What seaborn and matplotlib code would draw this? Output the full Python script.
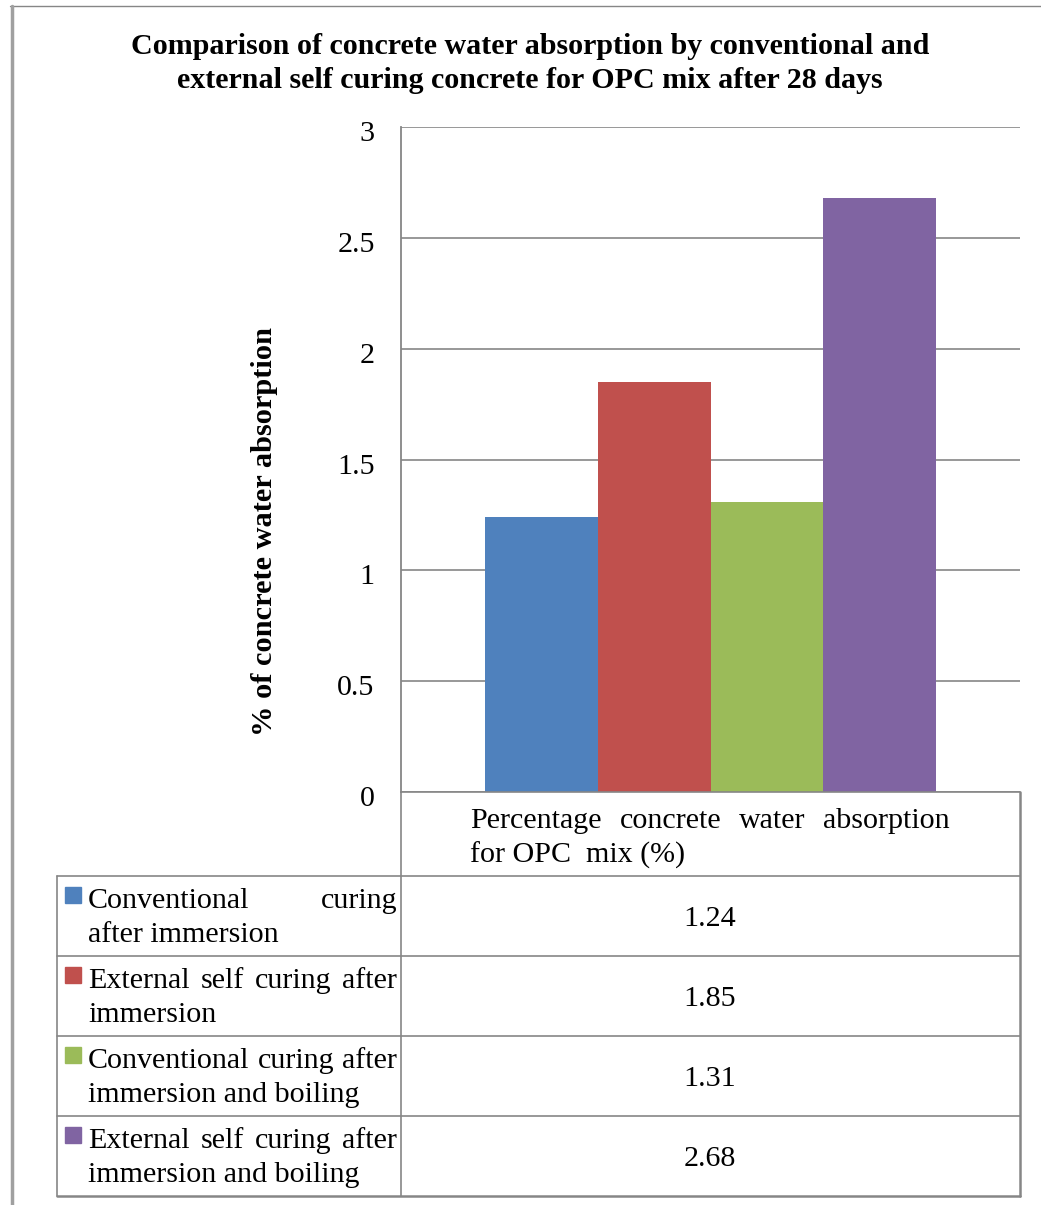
import matplotlib
matplotlib.use("Agg")
import matplotlib.pyplot as plt
import matplotlib.transforms as mtransforms
import seaborn as sns
import pandas as pd
from matplotlib.lines import Line2D

# ---- data ----
category = "Percentage concrete water absorption for OPC mix (%)"
series = [
    "Conventional curing after immersion",
    "External self curing after immersion",
    "Conventional curing after immersion and boiling",
    "External self curing after immersion and boiling",
]
values = [1.24, 1.85, 1.31, 2.68]
value_labels = ["1.24", "1.85", "1.31", "2.68"]
colors = ["#4F81BD", "#C0504D", "#9BBB59", "#8064A2"]
yticks = [0, 0.5, 1, 1.5, 2, 2.5, 3]
ytick_labels = ["0", "0.5", "1", "1.5", "2", "2.5", "3"]
title_lines = ["Comparison of concrete water absorption by conventional and",
               "external self curing concrete for OPC mix after 28 days"]
ylabel = "% of concrete water absorption"

sns.set_theme(style="white")
plt.rcParams["font.family"] = ["Liberation Serif", "DejaVu Serif"]
plt.rcParams["text.color"] = "black"
plt.rcParams["ytick.color"] = "black"

W, H = 1041, 1205
fig = plt.figure(figsize=(W / 100, H / 100), dpi=100)
GRAY = "#868686"
FS = 21.6
DY = 3  # vertical text offset in px


def fx(x):
    return x / W


def fy(y):
    return 1 - y / H


# main plot axes
ax_l, ax_r, ax_t, ax_b = 401, 1020, 127, 792
ax = fig.add_axes([fx(ax_l), fy(ax_b), fx(ax_r - ax_l), (ax_b - ax_t) / H])

df = pd.DataFrame({"category": [category] * 4, "series": series, "value": values})
sns.barplot(data=df, x="category", y="value", hue="series", hue_order=series,
            palette=colors, saturation=1, width=0.729, ax=ax, legend=False,
            linewidth=0, edgecolor="none")
ax.set_xlim(-0.5, 0.5)
ax.set_ylim(0, 3)
ax.set_yticks(yticks)
ax.set_yticklabels(ytick_labels, fontsize=FS, color="black")
ax.tick_params(axis="y", length=0, pad=19)
off = mtransforms.ScaledTranslation(0, -4 / 100, fig.dpi_scale_trans)
for lab in ax.get_yticklabels():
    lab.set_transform(lab.get_transform() + off)
ax.set_xticks([])
ax.set_xlabel("")
ax.set_ylabel("")
for s in ["top", "right", "bottom"]:
    ax.spines[s].set_visible(False)
ax.spines["left"].set_color(GRAY)
ax.spines["left"].set_linewidth(1.3)
ax.set_axisbelow(True)
ax.yaxis.grid(True, color=GRAY, linewidth=1.2)
ax.patch.set_alpha(0)

# title and y label
fig.text(fx(530), fy(43 + DY), title_lines[0], ha="center", va="center",
         fontsize=FS, fontweight="bold")
fig.text(fx(530), fy(77 + DY), title_lines[1], ha="center", va="center",
         fontsize=FS, fontweight="bold")
fig.text(fx(265), fy(532), ylabel, ha="center", va="center", fontsize=21.9,
         fontweight="bold", rotation=90)


def hline(x0, x1, y, lw=1.2, color=GRAY):
    fig.add_artist(Line2D([fx(x0), fx(x1)], [fy(y), fy(y)], color=color, lw=lw))


def vline(x, y0, y1, lw=1.2, color=GRAY):
    fig.add_artist(Line2D([fx(x), fx(x)], [fy(y0), fy(y1)], color=color, lw=lw))


# page frame
hline(10, 1041, 6, lw=1.0)
vline(12, 6, 1205, lw=2.5, color="#A0A0A0")

# data table grid
rows = [876, 956, 1036, 1116, 1196]
vline(401, 792, 1196)
vline(1020, 792, 1196, lw=1.8)
hline(401, 1020, 792)
for r in rows[:-1]:
    hline(57, 1020, r)
hline(57, 1020, rows[-1], lw=1.8)
vline(57, 876, 1196)

renderer = fig.canvas.get_renderer()


def justify(words, x0, x1, y):
    texts = [fig.text(0, fy(y + DY), w, ha="left", va="center", fontsize=FS)
             for w in words]
    widths = [t.get_window_extent(renderer).width for t in texts]
    gap = (x1 - x0 - sum(widths)) / max(len(words) - 1, 1)
    x = x0
    for t, w in zip(texts, widths):
        t.set_x(fx(x))
        x += w + gap


# header cell (category label)
justify(["Percentage", "concrete", "water", "absorption"], 470, 950, 818)
fig.text(fx(470), fy(852 + DY), "for OPC  mix (%)", ha="left", va="center",
         fontsize=FS)

# legend rows
first_lines = [
    ["Conventional", "curing"],
    ["External", "self", "curing", "after"],
    ["Conventional", "curing", "after"],
    ["External", "self", "curing", "after"],
]
second_lines = ["after immersion", "immersion", "immersion and boiling",
                "immersion and boiling"]
for i in range(4):
    top = rows[i]
    y1 = top + 22
    y2 = top + 56
    justify(first_lines[i], 88, 397, y1)
    fig.text(fx(88), fy(y2 + DY), second_lines[i], ha="left", va="center",
             fontsize=FS)
    fig.add_artist(plt.Rectangle((fx(65), fy(top + 27)), fx(16), 16 / H,
                                 color=colors[i], transform=fig.transFigure))
    fig.text(fx(710), fy(top + 40 + DY), value_labels[i], ha="center",
             va="center", fontsize=FS)

fig.savefig("out.png", dpi=100, facecolor="white")
